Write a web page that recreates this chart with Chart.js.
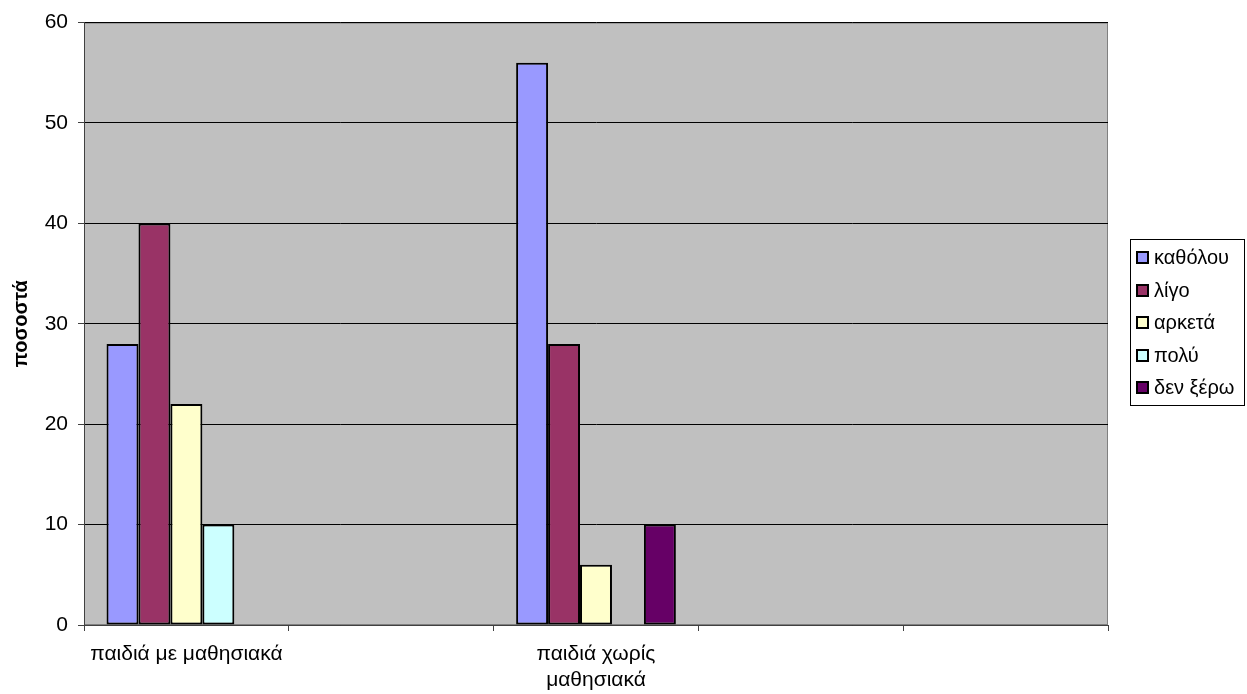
<!DOCTYPE html>
<html>
<head>
<meta charset="utf-8">
<script src="https://cdn.jsdelivr.net/npm/chart.js@4/dist/chart.umd.min.js"></script>
<style>
  html, body { margin: 0; padding: 0; background: #fff; }
  #wrap { width: 1247px; height: 694px; }
</style>
</head>
<body>
<div id="wrap"><canvas id="chart" width="1247" height="694"></canvas></div>
<script>
const categories = [
  "παιδιά με μαθησιακά",
  "",
  ["παιδιά χωρίς", "μαθησιακά"],
  "",
  ""
];
const katholou = [28, null, 56, null, null];
const ligo = [40, null, 28, null, null];
const arketa = [22, null, 6, null, null];
const poly = [10, null, null, null, null];
const denXero = [null, null, 10, null, null];
const yTicks = [0, 10, 20, 30, 40, 50, 60];

const FONT = "'Liberation Sans', Arial, sans-serif";

// grey plot background and frame
const plotBg = {
  id: "plotBg",
  beforeDraw(chart) {
    const { ctx, chartArea: a } = chart;
    ctx.save();
    ctx.fillStyle = "#c0c0c0";
    ctx.fillRect(a.left, a.top, a.right - a.left, a.bottom - a.top);
    ctx.strokeStyle = "#808080";
    ctx.lineWidth = 1;
    ctx.strokeRect(a.left + 0.5, a.top + 0.5, a.right - a.left - 1, a.bottom - a.top - 1);
    ctx.restore();
  }
};

// boxed legend on the right
const boxLegend = {
  id: "boxLegend",
  afterDraw(chart) {
    const { ctx } = chart;
    const x = 1130, y = 239, w = 115, h = 167, row = 32.5;
    ctx.save();
    ctx.fillStyle = "#fff";
    ctx.fillRect(x, y, w, h);
    ctx.strokeStyle = "#000";
    ctx.lineWidth = 1;
    ctx.strokeRect(x + 0.5, y + 0.5, w - 1, h - 1);
    ctx.font = "20px " + FONT;
    ctx.textBaseline = "middle";
    chart.data.datasets.forEach((ds, i) => {
      const cy = Math.round(y + 18 + i * row);
      ctx.fillStyle = ds.backgroundColor;
      ctx.fillRect(x + 7, cy - 5, 11, 11);
      ctx.strokeStyle = "#000";
      ctx.lineWidth = 2;
      ctx.strokeRect(x + 7, cy - 5, 11, 11);
      ctx.fillStyle = "#000";
      ctx.fillText(ds.label, x + 24, cy + 1);
    });
    ctx.restore();
  }
};

const bar = (label, data, color) => ({
  label, data,
  backgroundColor: color,
  borderColor: "#000",
  borderWidth: 2,
  borderSkipped: false,
  categoryPercentage: 0.78,
  barPercentage: 1
});

new Chart(document.getElementById("chart"), {
  type: "bar",
  data: {
    labels: categories,
    datasets: [
      bar("καθόλου", katholou, "#9999ff"),
      bar("λίγο", ligo, "#993366"),
      bar("αρκετά", arketa, "#ffffcc"),
      bar("πολύ", poly, "#ccffff"),
      bar("δεν ξέρω", denXero, "#660066")
    ]
  },
  options: {
    responsive: false,
    animation: false,
    layout: { padding: { top: 20, right: 139, left: 0, bottom: 0 } },
    plugins: {
      legend: { display: false },
      tooltip: { enabled: false }
    },
    scales: {
      x: {
        afterFit(s) { s.height = 69; },
        grid: {
          offset: true,
          drawOnChartArea: false,
          drawTicks: true,
          tickLength: 6,
          color: "#404040"
        },
        border: { color: "#404040", width: 1 },
        ticks: {
          color: "#000",
          font: { family: FONT, size: 21, lineHeight: 1.2 },
          padding: 11,
          maxRotation: 0,
          autoSkip: false
        }
      },
      y: {
        min: 0,
        max: 60,
        afterFit(s) { s.width = 84; },
        afterBuildTicks(s) { s.ticks = yTicks.map(v => ({ value: v })); },
        grid: {
          color: "#000",
          lineWidth: 1,
          drawTicks: true,
          tickLength: 6,
          tickColor: "#404040"
        },
        border: { color: "#404040", width: 1 },
        ticks: {
          color: "#000",
          font: { family: FONT, size: 21 },
          padding: 10
        },
        title: {
          display: true,
          text: "ποσοστά",
          color: "#000",
          font: { family: FONT, size: 20, weight: "bold", lineHeight: 1.2 },
          padding: { top: 9, bottom: 0 }
        }
      }
    }
  },
  plugins: [plotBg, boxLegend]
});
</script>
</body>
</html>
